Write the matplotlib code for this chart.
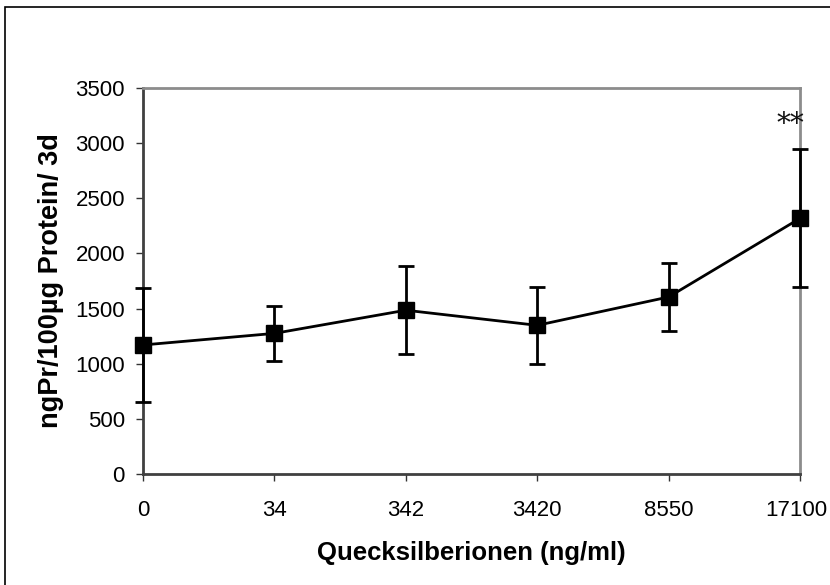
import matplotlib
matplotlib.use("Agg")
import matplotlib.pyplot as plt
import matplotlib.transforms as mtransforms
from matplotlib.patches import Rectangle

# -------------------------------
# DATA
# -------------------------------
dose_labels = ["0", "34", "342", "3420", "8550", "17100"]
mean_vals = [1170, 1275, 1485, 1348, 1605, 2318]
err_vals = [515, 250, 400, 352, 312, 625]
sig_label = "**"

plt.rcParams["font.family"] = ["Liberation Sans", "DejaVu Sans"]

fig = plt.figure(figsize=(8.3, 5.85), dpi=100)
ax = fig.add_axes([143 / 830, 111 / 585, 657 / 830, 386 / 585])

# outer frame of the chart object (runs off right and bottom edges)
fig.patches.append(Rectangle((5 / 830, -0.05), 1.1, 1.05 - 7 / 585,
                             transform=fig.transFigure, fill=False,
                             edgecolor="black", linewidth=1.2))

x = list(range(len(dose_labels)))
ax.errorbar(x, mean_vals, yerr=err_vals, color="black", linewidth=2,
            marker="s", markersize=11, elinewidth=2, capsize=6,
            capthick=2, clip_on=False, zorder=3)

ax.text(x[-1] - 0.07, 3170, sig_label, ha="center", va="center",
        fontsize=20, family="DejaVu Serif", color="#111111")

ax.set_xlim(0, len(dose_labels) - 1)
ax.set_ylim(0, 3500)
ax.set_xticks(x)
ax.set_xticklabels(dose_labels)
ax.set_yticks(range(0, 3501, 500))

ax.tick_params(axis="both", direction="out", labelsize=16, length=5,
               width=1, color="#333333")
ax.tick_params(axis="x", pad=14)
ax.tick_params(axis="y", pad=8)

# last x label sits right at the figure edge, nudge it in a bit
last = ax.get_xticklabels()[-1]
last.set_transform(last.get_transform() +
                   mtransforms.ScaledTranslation(-4 / 100, 0, fig.dpi_scale_trans))

for side in ["left", "bottom"]:
    ax.spines[side].set_color("#404040")
    ax.spines[side].set_linewidth(2)
for side in ["top", "right"]:
    ax.spines[side].set_color("#8c8c8c")
    ax.spines[side].set_linewidth(2)

ax.set_xlabel("Quecksilberionen (ng/ml)", fontsize=18.5, fontweight="bold",
              labelpad=14)
ax.set_ylabel("ngPr/100µg Protein/ 3d", fontsize=19.5, fontweight="bold",
              labelpad=8)

fig.savefig("out.png", dpi=100, facecolor="white")
